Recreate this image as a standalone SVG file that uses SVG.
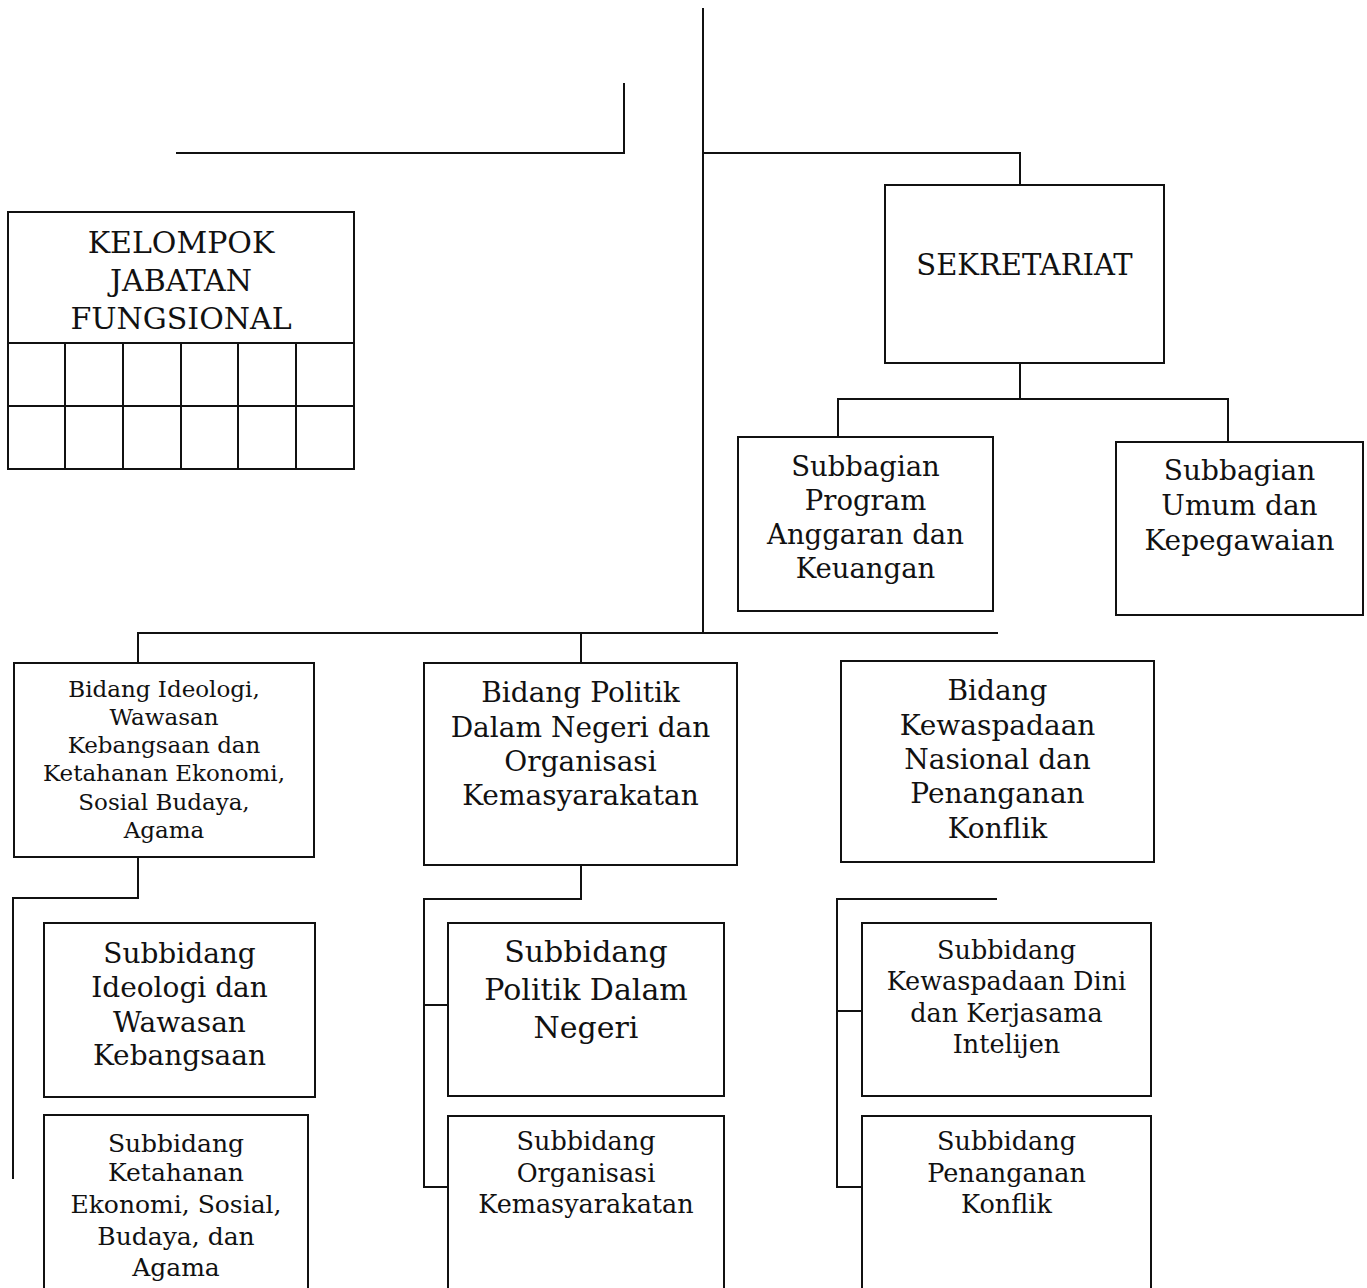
<svg xmlns="http://www.w3.org/2000/svg" width="1367" height="1288" viewBox="0 0 1367 1288">
<style>
.b{fill:#fff;stroke:#111;stroke-width:2}
.c{fill:none;stroke:#111;stroke-width:2}
text{font-family:"DejaVu Serif","Liberation Serif",serif;fill:#111;text-anchor:middle}
</style>
<rect width="1367" height="1288" fill="#fff"/>
<g id="connectors" class="c">
<path d="M703 8V632"/>
<path d="M176 153H624V83"/>
<path d="M703 153H1020V185"/>
<path d="M1020 363V399M838 437V399H1228V441"/>
<path d="M138 662V633H998M581 633V662"/>
<path d="M138 857V898H13V1179"/>
<path d="M581 865V899H424V1187H448M424 1005H448"/>
<path d="M997 899H837V1187H862M837 1011H862"/>
</g>
<g id="kelompok">
<rect class="b" x="8" y="212" width="346" height="257"/>
<path class="c" d="M8 343H354M8 406H354M65 343V469M123 343V469M181 343V469M238 343V469M296 343V469"/>
<text font-size="30"><tspan x="181" y="253">KELOMPOK</tspan><tspan x="181" y="291">JABATAN</tspan><tspan x="181" y="329">FUNGSIONAL</tspan></text>
</g>
<g id="sekretariat">
<rect class="b" x="885" y="185" width="279" height="178"/>
<text font-size="29" x="1024.5" y="275">SEKRETARIAT</text>
</g>
<g id="subbagian-program">
<rect class="b" x="738" y="437" width="255" height="174"/>
<text font-size="27.5"><tspan x="865.5" y="476">Subbagian</tspan><tspan x="865.5" y="510">Program</tspan><tspan x="865.5" y="544">Anggaran dan</tspan><tspan x="865.5" y="578">Keuangan</tspan></text>
</g>
<g id="subbagian-umum">
<rect class="b" x="1116" y="442" width="247" height="173"/>
<text font-size="28"><tspan x="1239.5" y="480">Subbagian</tspan><tspan x="1239.5" y="515">Umum dan</tspan><tspan x="1239.5" y="550">Kepegawaian</tspan></text>
</g>
<g id="bidang-ideologi">
<rect class="b" x="14" y="663" width="300" height="194"/>
<text font-size="23"><tspan x="164" y="697">Bidang Ideologi,</tspan><tspan x="164" y="725">Wawasan</tspan><tspan x="164" y="753">Kebangsaan dan</tspan><tspan x="164" y="781">Ketahanan Ekonomi,</tspan><tspan x="164" y="810">Sosial Budaya,</tspan><tspan x="164" y="838">Agama</tspan></text>
</g>
<g id="bidang-politik">
<rect class="b" x="424" y="663" width="313" height="202"/>
<text font-size="28"><tspan x="580.5" y="702">Bidang Politik</tspan><tspan x="580.5" y="737">Dalam Negeri dan</tspan><tspan x="580.5" y="771">Organisasi</tspan><tspan x="580.5" y="805">Kemasyarakatan</tspan></text>
</g>
<g id="bidang-kewaspadaan">
<rect class="b" x="841" y="661" width="313" height="201"/>
<text font-size="28"><tspan x="997.5" y="700">Bidang</tspan><tspan x="997.5" y="735">Kewaspadaan</tspan><tspan x="997.5" y="769">Nasional dan</tspan><tspan x="997.5" y="803">Penanganan</tspan><tspan x="997.5" y="838">Konflik</tspan></text>
</g>
<g id="subbidang-ideologi">
<rect class="b" x="44" y="923" width="271" height="174"/>
<text font-size="28"><tspan x="179.5" y="963">Subbidang</tspan><tspan x="179.5" y="997">Ideologi dan</tspan><tspan x="179.5" y="1032">Wawasan</tspan><tspan x="179.5" y="1065">Kebangsaan</tspan></text>
</g>
<g id="subbidang-ketahanan">
<rect class="b" x="44" y="1115" width="264" height="180"/>
<text font-size="25"><tspan x="176" y="1152">Subbidang</tspan><tspan x="176" y="1181">Ketahanan</tspan><tspan x="176" y="1213">Ekonomi, Sosial,</tspan><tspan x="176" y="1245">Budaya, dan</tspan><tspan x="176" y="1276">Agama</tspan></text>
</g>
<g id="subbidang-politik">
<rect class="b" x="448" y="923" width="276" height="173"/>
<text font-size="30"><tspan x="586" y="962">Subbidang</tspan><tspan x="586" y="1000">Politik Dalam</tspan><tspan x="586" y="1038">Negeri</tspan></text>
</g>
<g id="subbidang-organisasi">
<rect class="b" x="448" y="1116" width="276" height="180"/>
<text font-size="25.5"><tspan x="586" y="1150">Subbidang</tspan><tspan x="586" y="1182">Organisasi</tspan><tspan x="586" y="1213">Kemasyarakatan</tspan></text>
</g>
<g id="subbidang-kewaspadaan-dini">
<rect class="b" x="862" y="923" width="289" height="173"/>
<text font-size="25.5"><tspan x="1006.5" y="959">Subbidang</tspan><tspan x="1006.5" y="990">Kewaspadaan Dini</tspan><tspan x="1006.5" y="1022">dan Kerjasama</tspan><tspan x="1006.5" y="1053">Intelijen</tspan></text>
</g>
<g id="subbidang-penanganan">
<rect class="b" x="862" y="1116" width="289" height="180"/>
<text font-size="25.5"><tspan x="1006.5" y="1150">Subbidang</tspan><tspan x="1006.5" y="1182">Penanganan</tspan><tspan x="1006.5" y="1213">Konflik</tspan></text>
</g>
</svg>
